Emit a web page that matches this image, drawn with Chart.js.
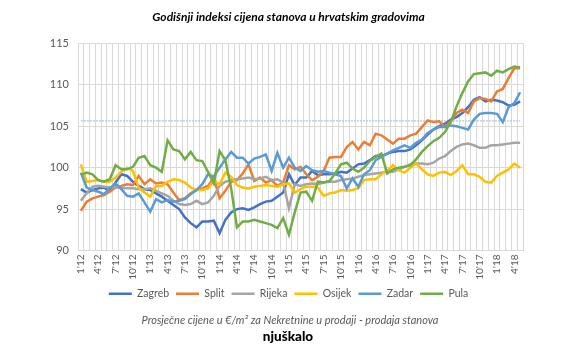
<!DOCTYPE html>
<html>
<head>
<meta charset="utf-8">
<script src="https://cdn.jsdelivr.net/npm/chart.js@4.4.1/dist/chart.umd.min.js"></script>
<style>
  html, body { margin: 0; padding: 0; background: #fff; }
  #wrap { width: 577px; height: 351px; }
</style>
</head>
<body>
<div id="wrap"><canvas id="chart" width="577" height="351"></canvas></div>
<script>
// Monthly categories, Jan 2012 - May 2018 (only every third one gets a tick label)
const MONTHS = [
    "1'12", "2'12", "3'12", "4'12", "5'12", "6'12", "7'12", "8'12", "9'12", "10'12", "11'12", "12'12",
    "1'13", "2'13", "3'13", "4'13", "5'13", "6'13", "7'13", "8'13", "9'13", "10'13", "11'13", "12'13",
    "1'14", "2'14", "3'14", "4'14", "5'14", "6'14", "7'14", "8'14", "9'14", "10'14", "11'14", "12'14",
    "1'15", "2'15", "3'15", "4'15", "5'15", "6'15", "7'15", "8'15", "9'15", "10'15", "11'15", "12'15",
    "1'16", "2'16", "3'16", "4'16", "5'16", "6'16", "7'16", "8'16", "9'16", "10'16", "11'16", "12'16",
    "1'17", "2'17", "3'17", "4'17", "5'17", "6'17", "7'17", "8'17", "9'17", "10'17", "11'17", "12'17",
    "1'18", "2'18", "3'18", "4'18", "5'18"
];

const ZAGREB = [
    97.4, 97.0, 97.3, 97.5, 97.6, 97.2, 98.2, 99.2, 99.0, 98.3, 97.8, 97.4,
    97.3, 96.9, 96.5, 96.0, 95.5, 95.0, 94.0, 93.3, 92.8, 93.5, 93.5, 93.6,
    92.1, 93.7, 94.6, 95.0, 95.1, 94.9, 95.2, 95.6, 95.9, 96.0, 96.5, 97.0,
    99.2, 97.9, 98.8, 98.8, 99.6, 99.1, 99.2, 99.2, 99.3, 99.5, 99.4, 99.9,
    100.4, 100.5, 100.9, 101.4, 101.4, 101.7, 101.9, 102.0, 102.0, 102.2, 102.7, 103.3,
    104.0, 104.6, 105.0, 105.3, 105.8, 106.1, 106.6, 107.3, 108.2, 108.5, 108.0, 108.2,
    108.1, 107.9, 107.5, 107.6, 108.0
];
const SPLIT = [
    94.8, 95.9, 96.3, 96.5, 96.7, 97.1, 97.6, 97.8, 98.0, 97.9, 99.0, 98.0,
    98.6, 98.1, 98.2, 98.0, 97.0, 96.1, 96.3, 96.9, 97.3, 97.5, 97.8, 98.8,
    96.3, 97.2, 98.3, 98.5, 99.3, 100.4, 98.4, 98.8, 98.2, 98.5, 97.8, 98.2,
    100.3, 99.8, 100.1, 99.2, 98.5, 98.9, 99.6, 101.2, 101.3, 101.3, 102.5, 103.1,
    102.2, 103.1, 102.7, 104.1, 103.9, 103.4, 102.9, 103.5, 103.5, 103.9, 104.1, 104.9,
    105.7, 105.5, 105.6, 104.9, 105.6, 106.6, 107.0, 106.6, 108.0, 108.4, 108.3, 108.0,
    109.2, 109.5, 110.8, 112.0, 112.0
];
const RIJEKA = [
    96.0, 96.9, 97.7, 97.8, 97.7, 97.6, 97.6, 97.6, 97.5, 97.5, 97.4, 97.4,
    97.5, 97.2, 96.9, 96.6, 96.0, 95.6, 95.5, 95.6, 96.0, 95.6, 95.8, 96.6,
    97.8, 98.3, 98.5, 98.6, 98.7, 98.8, 98.6, 98.7, 98.9, 98.5, 98.6, 98.2,
    95.1, 98.0, 97.8, 98.0, 98.1, 98.0, 98.2, 98.3, 98.3, 98.5, 98.6, 98.7,
    98.9, 99.1, 99.2, 99.3, 99.4, 99.5, 99.5, 99.8, 100.1, 100.4, 100.5, 100.5,
    100.4, 100.6, 101.1, 101.4, 102.0, 102.5, 102.8, 102.9, 102.7, 102.4, 102.4, 102.7,
    102.7, 102.8, 102.9, 103.0, 103.0
];
const OSIJEK = [
    100.4, 98.3, 98.4, 98.5, 98.3, 98.3, 98.8, 99.5, 100.0, 99.6, 97.6, 97.0,
    96.5, 97.8, 97.8, 98.3, 98.6, 98.5, 98.2, 97.6, 97.3, 97.3, 97.5, 98.4,
    98.0, 99.4, 98.9, 97.9, 97.6, 97.5, 97.7, 97.8, 97.9, 97.8, 97.7, 98.0,
    98.1, 97.0, 97.4, 97.7, 97.7, 97.6, 96.6, 96.9, 97.0, 97.3, 97.2, 97.3,
    97.5, 98.5, 98.6, 98.6, 99.2, 99.6, 100.3, 99.7, 99.4, 100.0, 100.5, 99.8,
    99.2, 99.0, 99.4, 99.5, 99.1, 99.6, 100.3, 99.2, 99.2, 98.9, 98.3, 98.2,
    99.0, 99.4, 99.8, 100.5, 100.0
];
const ZADAR = [
    99.4, 97.6, 97.3, 97.1, 96.8, 97.5, 98.1, 97.4, 96.6, 96.5, 96.9, 95.8,
    94.7, 96.2, 95.8, 96.1, 95.9, 96.0, 96.2, 96.8, 97.3, 98.0, 99.2, 98.9,
    100.0, 101.0, 101.9, 101.2, 101.2, 100.5, 101.1, 101.3, 101.6, 99.6, 101.8, 100.0,
    101.2, 100.0, 99.6, 100.2, 99.7, 99.5, 99.6, 99.4, 99.2, 99.0, 97.5, 98.7,
    97.7, 99.2, 99.7, 100.9, 101.3, 101.7, 102.1, 102.4, 102.7, 102.4, 103.0, 103.4,
    104.2, 104.6, 104.9, 104.9, 105.1, 105.0, 104.8, 104.6, 105.8, 106.5, 106.6, 106.6,
    106.5, 105.5, 107.3, 107.8, 109.1
];
const PULA = [
    99.1, 99.4, 99.2, 98.5, 98.3, 98.6, 100.3, 99.8, 99.8, 100.1, 101.2, 101.4,
    100.3, 100.0, 99.5, 103.3, 102.2, 102.0, 101.0, 101.9, 100.9, 100.8, 99.5, 98.1,
    102.0, 100.9, 97.5, 92.8, 93.5, 93.5, 93.7, 93.5, 93.3, 93.1, 92.7, 93.9,
    91.9, 94.6, 97.0, 97.1, 96.0, 98.3, 98.2, 98.4, 99.3, 100.4, 100.6, 99.9,
    99.5, 100.0, 100.8, 101.3, 101.7, 99.3, 99.8, 100.0, 100.1, 100.3, 101.0, 101.9,
    102.6, 103.2, 103.6, 104.3, 105.5, 107.4, 109.0, 110.4, 111.3, 111.4, 111.5, 111.1,
    111.7, 111.5, 111.9, 112.2, 112.1
];

// Dotted reference level drawn across the whole plot
const REFERENCE_LEVEL = 105.65;

const CITIES = ['Zagreb', 'Split', 'Rijeka', 'Osijek', 'Zadar', 'Pula'];
const SERIES = [ZAGREB, SPLIT, RIJEKA, OSIJEK, ZADAR, PULA];
const COLORS = ['#4472C4', '#ED7D31', '#A5A5A5', '#FFC000', '#5B9BD5', '#70AD47'];

const Y_MIN = 90;
const Y_MAX = 115;
const Y_STEP = 5;

const TITLE = 'Godišnji indeksi cijena stanova u hrvatskim gradovima';
const SOURCE_NOTE = 'Prosječne cijene u €/m² za Nekretnine u prodaji - prodaja stanova';
const BRAND = 'njuškalo';

const FONT = 'Lato, "Liberation Sans", sans-serif';
const GRID = '#D9D9D9';
const TICK_COLOR = '#595959';

// Bottom caption + brand line under the legend
const footerText = {
    id: 'footerText',
    afterDraw(chart) {
        const ctx = chart.ctx;
        ctx.save();
        ctx.textAlign = 'center';
        ctx.textBaseline = 'middle';
        ctx.fillStyle = '#595959';
        ctx.font = 'italic 11px ' + FONT;
        ctx.fillText(SOURCE_NOTE, 290, 320);
        ctx.fillStyle = '#000';
        ctx.font = '900 13.5px ' + FONT;
        ctx.fillText(BRAND, 288, 337);
        ctx.restore();
    }
};

const datasets = SERIES.map((values, i) => ({
    label: CITIES[i],
    data: values,
    borderColor: COLORS[i],
    backgroundColor: COLORS[i],
    borderWidth: 2.5,
    pointRadius: 0,
    tension: 0,
    fill: false,
    order: SERIES.length - i
}));

datasets.push({
    label: 'ref',
    data: MONTHS.map(() => REFERENCE_LEVEL),
    borderColor: '#A9C4EA',
    borderWidth: 1.2,
    borderDash: [2, 1],
    pointRadius: 0,
    fill: false,
    order: 10
});

new Chart(document.getElementById('chart'), {
    type: 'line',
    data: { labels: MONTHS, datasets: datasets },
    options: {
        responsive: false,
        animation: false,
        layout: { padding: { left: 0, right: 0, top: 0, bottom: 42 } },
        plugins: {
            title: {
                display: true,
                text: TITLE,
                color: '#000',
                font: { family: FONT, size: 12, weight: 'bold', style: 'italic' },
                padding: { top: 10, bottom: 19 }
            },
            legend: {
                position: 'bottom',
                labels: {
                    usePointStyle: true,
                    pointStyle: 'line',
                    pointStyleWidth: 23,
                    color: TICK_COLOR,
                    font: { family: FONT, size: 10.5 },
                    padding: 7,
                    filter: item => item.text !== 'ref',
                    sort: (a, b) => a.datasetIndex - b.datasetIndex
                }
            },
            tooltip: { enabled: false }
        },
        scales: {
            x: {
                offset: true,
                grid: { color: GRID, offset: true, drawTicks: false },
                border: { color: GRID },
                ticks: {
                    autoSkip: false,
                    maxRotation: 90,
                    minRotation: 90,
                    padding: 4,
                    color: TICK_COLOR,
                    font: { family: FONT, size: 10 },
                    callback: function(value, index) {
                        return index % 3 === 0 ? this.getLabelForValue(value) : '';
                    }
                },
                afterFit: scale => { scale.height = 31; }
            },
            y: {
                min: Y_MIN,
                max: Y_MAX,
                grid: { color: GRID, drawTicks: false },
                border: { color: GRID },
                ticks: {
                    stepSize: Y_STEP,
                    padding: 9,
                    color: TICK_COLOR,
                    font: { family: FONT, size: 11 }
                },
                afterFit: scale => { scale.width = 78; }
            },
            // empty right gutter so title and legend centre on the full width
            gutter: {
                type: 'linear',
                position: 'right',
                grid: { display: false },
                border: { display: false },
                ticks: { display: false },
                afterFit: scale => { scale.width = 54; }
            }
        }
    },
    plugins: [footerText]
});
</script>
</body>
</html>
